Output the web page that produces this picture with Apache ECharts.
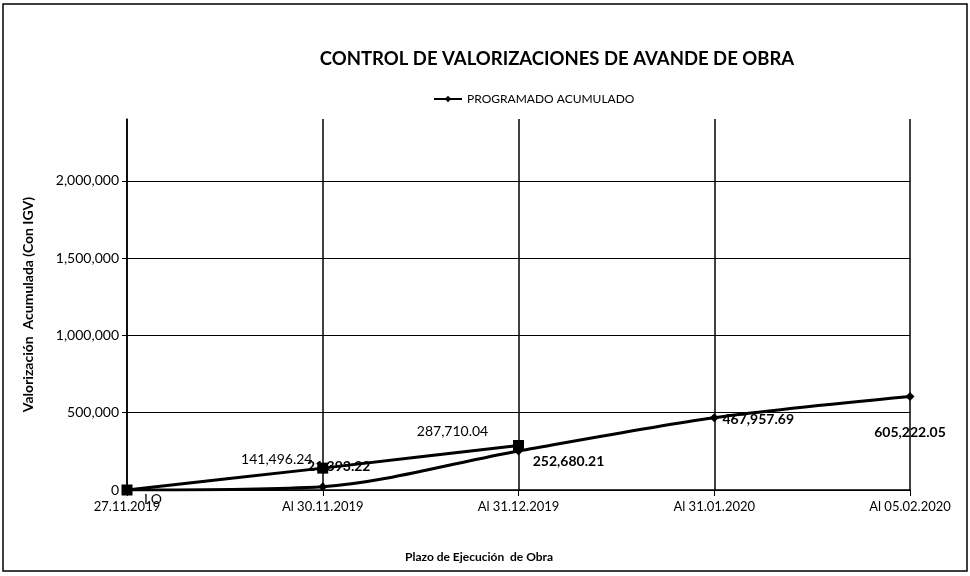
<!DOCTYPE html>
<html>
<head>
<meta charset="utf-8">
<script src="https://cdn.jsdelivr.net/npm/echarts@6/dist/echarts.min.js"></script>
<style>
html, body { margin: 0; padding: 0; background: #fff; }
#chart { width: 970px; height: 576px; }
</style>
</head>
<body>
<div id="chart"></div>
<script>
// fechas del plazo
var categorias = ['27.11.2019', 'Al 30.11.2019', 'Al 31.12.2019', 'Al 31.01.2020', 'Al 05.02.2020'];
// valorizacion programada acumulada
var programado = [0, 21393.22, 252680.21, 467957.69, 605222.05];
// valorizacion ejecutada acumulada
var ejecutado = [0, 141496.24, 287710.04];
var yTicks = [0, 500000, 1000000, 1500000, 2000000];

var fuente = 'Lato';

function fmt(v) {
	return v.toLocaleString('en-US', { minimumFractionDigits: 2, maximumFractionDigits: 2 });
}

// posiciones de etiquetas tipo excel
var offProg = [[26, 9], [16, -20], [50, 11], [44, 2], [0, 36]];
var offEjec = [[0, 0], [-46, -9], [-66, -14]];

initChart();

function initChart() {
	var myChart = echarts.init(document.getElementById('chart'));
	var dataProg = programado.map(function (v, i) {
		return {
			value: v,
			label: {
				show: true,
				position: 'inside',
				offset: offProg[i],
				fontWeight: i == 0 ? 'normal' : 'bold',
				formatter: i == 0 ? 'I.O' : fmt(v)
			}
		};
	});
	var dataEjec = ejecutado.map(function (v, i) {
		return {
			value: v,
			label: {
				show: i > 0,
				position: 'inside',
				offset: offEjec[i],
				formatter: fmt(v)
			}
		};
	});
	var option = {
		animation: false,
		textStyle: { fontFamily: fuente, color: '#000' },
		title: {
			text: 'CONTROL DE VALORIZACIONES DE AVANDE DE OBRA',
			left: 552,
			top: 45,
			textAlign: 'center',
			textStyle: { fontFamily: fuente, fontSize: 18.5, fontWeight: 'bold', color: '#000' }
		},
		legend: {
			top: 88,
			left: 428,
			itemWidth: 28,
			itemHeight: 8,
			itemGap: 4,
			data: ['PROGRAMADO ACUMULADO'],
			textStyle: { fontFamily: fuente, fontSize: 12, color: '#000' }
		},
		grid: { left: 127, right: 60, top: 119, bottom: 86 },
		xAxis: {
			type: 'category',
			boundaryGap: false,
			data: categorias,
			axisLine: { lineStyle: { color: '#000', width: 1.5 } },
			axisTick: { show: true, alignWithLabel: true, length: 6, lineStyle: { color: '#000' } },
			axisLabel: { color: '#000', fontSize: 13, fontFamily: fuente, margin: 10 },
			splitLine: { show: true, lineStyle: { color: '#000', width: 1.5 } }
		},
		yAxis: {
			type: 'value',
			min: 0,
			max: 2400000,
			interval: 500000,
			name: 'Valorización  Acumulada (Con IGV)',
			nameLocation: 'middle',
			nameGap: 92,
			nameTextStyle: { fontFamily: fuente, fontSize: 14, fontWeight: 'bold', color: '#000' },
			axisLine: { show: true, lineStyle: { color: '#000', width: 1.5 } },
			axisTick: { show: true, length: 5, lineStyle: { color: '#000' } },
			axisLabel: {
				color: '#000', fontSize: 14, fontFamily: fuente, margin: 8,
				showMaxLabel: false,
				formatter: function (v) { return yTicks.indexOf(v) >= 0 ? v.toLocaleString('en-US') : ''; }
			},
			splitLine: { show: true, showMaxLine: false, lineStyle: { color: '#000', width: 1.2 } }
		},
		graphic: [
			{
				type: 'rect',
				shape: { x: 3, y: 4, width: 964, height: 567 },
				style: { fill: 'none', stroke: '#000', lineWidth: 1.5 },
				silent: true
			},
			{
				type: 'text',
				left: 405,
				top: 551,
				style: { text: 'Plazo de Ejecución  de Obra', font: 'bold 12px Lato', fill: '#000' }
			}
		],
		series: [
			{
				name: 'PROGRAMADO ACUMULADO',
				type: 'line',
				smooth: 0.3,
				data: dataProg,
				symbol: 'diamond',
				symbolSize: 9,
				lineStyle: { color: '#000', width: 3 },
				itemStyle: { color: '#000' },
				label: { fontSize: 14, fontFamily: fuente, color: '#000' },
				z: 5
			},
			{
				name: 'EJECUTADO ACUMULADO',
				type: 'line',
				smooth: 0.2,
				data: dataEjec,
				symbol: 'rect',
				symbolSize: 11,
				lineStyle: { color: '#000', width: 3 },
				itemStyle: { color: '#000' },
				label: { fontSize: 14, fontFamily: fuente, color: '#000' },
				z: 4
			}
		]
	};
	myChart.setOption(option);
}
</script>
</body>
</html>
